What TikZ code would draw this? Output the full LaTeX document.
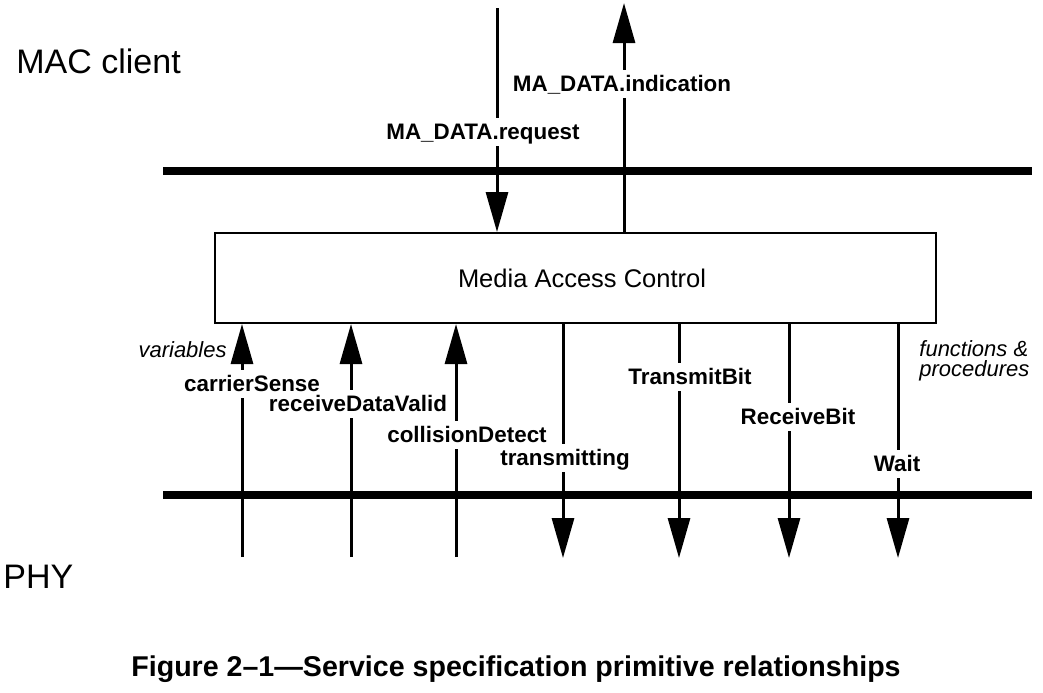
\documentclass[tikz,border=0pt]{standalone}
\usepackage{fontspec}
\setmainfont{Liberation Sans}
\usetikzlibrary{arrows.meta,backgrounds}
\pgfdeclarelayer{lines}
\pgfdeclarelayer{mask}
\pgfsetlayers{lines,mask,main}
\begin{document}
\begin{tikzpicture}[x=0.5pt,y=-0.5pt,
  arr/.style={line width=1.5pt,-{Triangle[width=11pt,length=20pt]}},
  bar/.style={line width=4pt},
  lbl/.style={font=\fontsize{11.2pt}{13pt}\selectfont\bfseries,inner xsep=1pt,inner ysep=2.5pt,text height=8.2pt,text depth=0.5pt},
  maskfill/.style={fill=white},
  note/.style={font=\fontsize{11pt}{10pt}\selectfont\itshape,inner sep=0pt,align=left},
  layer/.style={font=\fontsize{17pt}{20pt}\selectfont,inner sep=0pt},
  capt/.style={font=\fontsize{14.3pt}{17pt}\selectfont\bfseries,inner sep=0pt}]
\useasboundingbox (0,0) rectangle (1043,692);

% MAC box
\node (mac) [draw, line width=1pt, minimum width=360.5pt, minimum height=45pt, inner sep=0pt,
  font=\fontsize{12.75pt}{15pt}\selectfont] at (575.5,278) {\hspace{6.5pt}Media Access Control};

% labels
\node (lreq) [lbl] at (483,132) {MA\_DATA.request};
\node (lind) [lbl] at (622,84) {MA\_DATA.indication};
\node (lcs) [lbl] at (252,384) {carrierSense};
\node (lrdv) [lbl] at (358,404) {receiveDataValid};
\node (lcd) [lbl] at (467,435) {collisionDetect};
\node (ltx) [lbl] at (565,458) {transmitting};
\node (ltb) [lbl] at (690,377) {TransmitBit};
\node (lrb) [lbl] at (798,417) {ReceiveBit};
\node (lwt) [lbl] at (897,464) {Wait};

\node (vars) [note, anchor=east] at (227,350) {variables};
\node (funcs) [note, anchor=west] at (919,361) {functions \&\\procedures};

\node (client) [layer, anchor=west] at (16,61) {MAC client};
\node (phy) [layer, anchor=west] at (3,577) {PHY};

\node (caption) [capt] at (516,669) {Figure 2–1—Service specification primitive relationships};

% white masks behind labels
\begin{pgfonlayer}{mask}
  \foreach \n in {lreq,lind,lcs,lrdv,lcd,ltx,ltb,lrb,lwt}
    \fill[maskfill] (\n.south west) rectangle (\n.north east);
\end{pgfonlayer}

\begin{pgfonlayer}{lines}
% layer bars
\coordinate (topL) at (163,171);
\coordinate (topR) at (1032,171);
\coordinate (botL) at (163,495);
\coordinate (botR) at (1032,495);
\draw[bar] (topL) -- (topR);
\draw[bar] (botL) -- (botR);

% service primitives
\coordinate (req) at (497,8);
\coordinate (ind) at (624,229);
\coordinate (indtip) at (624,3);
\draw[arr] (req) -- (req |- mac.north);
\draw[arr] (ind |- mac.north) -- (indtip);

% variables (up)
\coordinate (cs) at (242,557);
\coordinate (rdv) at (351,557);
\coordinate (cd) at (456,557);
\draw[arr] (cs) -- (cs |- mac.south);
\draw[arr] (rdv) -- (rdv |- mac.south);
\draw[arr] (cd) -- (cd |- mac.south);

% functions (down)
\coordinate (tx) at (563,558);
\coordinate (tb) at (679,558);
\coordinate (rb) at (789,558);
\coordinate (wt) at (898,558);
\draw[arr] (tx |- mac.south) -- (tx);
\draw[arr] (tb |- mac.south) -- (tb);
\draw[arr] (rb |- mac.south) -- (rb);
\draw[arr] (wt |- mac.south) -- (wt);
\end{pgfonlayer}
\end{tikzpicture}
\end{document}
